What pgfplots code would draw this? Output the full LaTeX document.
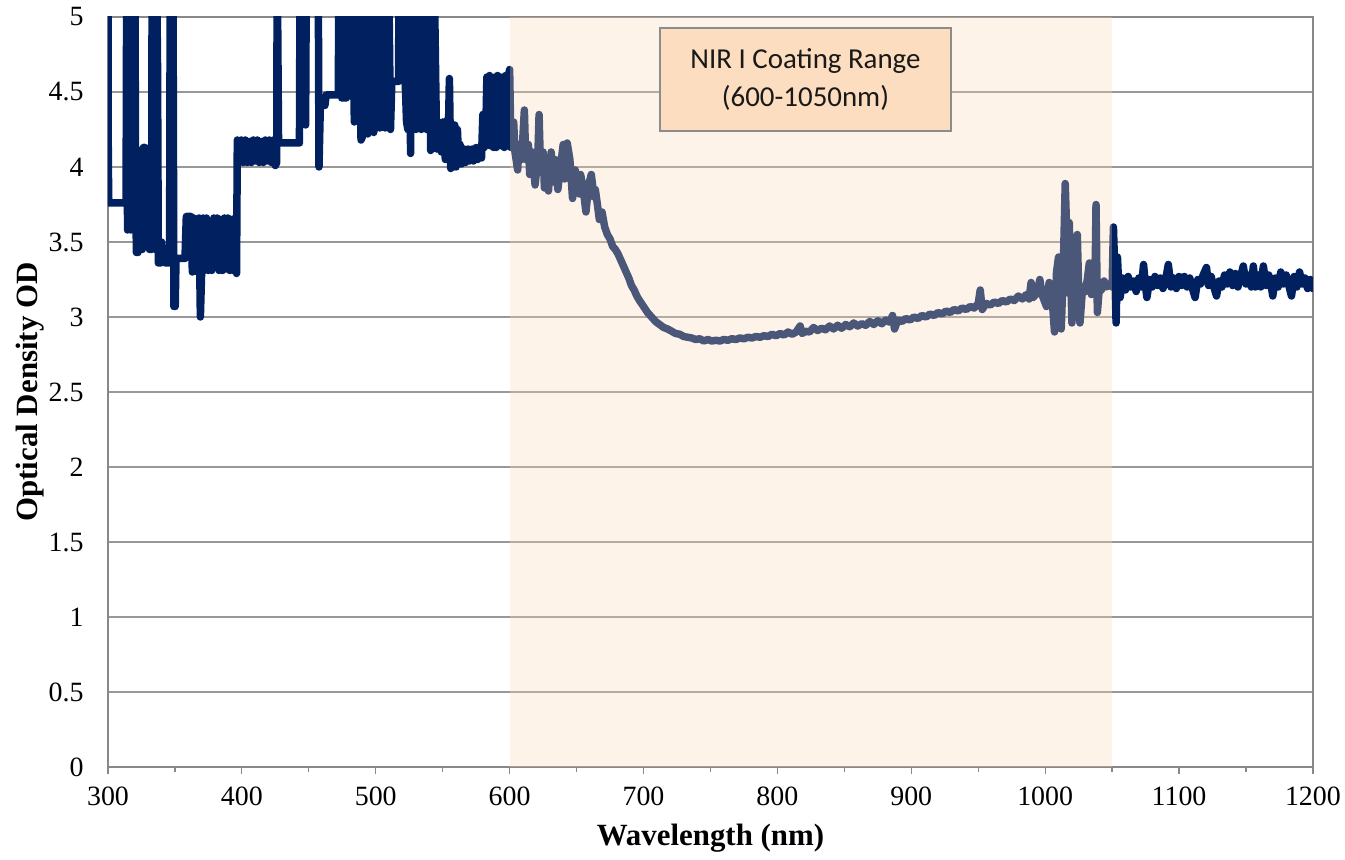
\documentclass[border=0pt]{standalone}
\usepackage{pgfplots}
\pgfplotsset{compat=1.18}
\usepackage{fontspec}
\setmainfont{Liberation Serif}
\newfontfamily\boxfont{Carlito}

\definecolor{navy}{RGB}{0,32,96}
\definecolor{gridc}{RGB}{152,152,152}
\definecolor{axc}{RGB}{136,136,136}
\definecolor{nirshade}{RGB}{248,215,182}
\definecolor{boxfill}{RGB}{252,221,192}
\definecolor{boxline}{RGB}{140,140,140}

\newcommand{\tickfont}{\fontsize{28}{30}\selectfont}

\begin{document}
\begin{tikzpicture}
\begin{axis}[
  at={(0,0)}, anchor=south west,
  scale only axis, width=1205bp, height=750bp,
  xmin=300, xmax=1200, ymin=0, ymax=5,
  xtick={300,400,...,1200}, minor x tick num=1,
  xticklabels={300,400,500,600,700,800,900,1000,1100,1200},
  ytick={0,0.5,...,5},
  yticklabels={0,0.5,1,1.5,2,2.5,3,3.5,4,4.5,5},
  xtick pos=lower, ytick pos=left,
  ymajorgrids,
  grid style={gridc, line width=1.4bp},
  axis line style={axc, line width=1.4bp},
  tick align=outside,
  major tick length=7bp, minor tick length=5bp,
  xtick style={axc, line width=1.2bp},
  ytick style={draw=none},
  xticklabel style={font=\tickfont, yshift=-9bp},
  yticklabel style={font=\tickfont, xshift=-14bp},
  xlabel={\textbf{Wavelength (nm)}},
  ylabel={\textbf{Optical Density OD}},
  label style={font=\fontsize{31}{34}\selectfont},
  xlabel style={yshift=-12bp},
  ylabel style={yshift=-2bp},
]
\addplot[navy, line width=7.5bp, line join=round, line cap=round] coordinates {
(300,5.4)(300.2,4.05)(300.6,3.76)(313.5,3.76)(314,5.4)(314.6,3.58)(315.2,5.4)(315.8,3.75)
(316.4,5.4)(317,3.58)(317.6,5.4)(318.2,3.9)(318.8,5.4)(319.4,3.6)(320,5.4)(320.6,4.0)
(321.2,3.43)(322.4,3.43)(323,4.0)(324,3.95)(325,4.05)(325.6,3.45)(326.4,4.13)(327.6,4.13)
(328.2,3.92)(329.5,3.92)(330.2,4.1)(331,3.45)(332.5,3.45)(333,5.4)(333.8,3.6)(334.6,5.4)
(335.4,3.45)(336.2,5.4)(337,4.67)(337.6,3.36)(339.5,3.36)(340,3.5)(341,3.37)(342,3.4)
(343,3.36)(346,3.36)(346.5,5.4)(348.5,5.4)(349.2,3.07)(350.2,3.07)(350.8,3.39)(357.5,3.39)
(358.5,3.67)(362,3.67)
(363,3.3)(364,3.66)(365,3.31)(366,3.65)(367,3.3)(368,3.66)(369,3.0)(370,3.32)(371,3.66)
(372,3.31)(373.5,3.66)(375,3.31)(376,3.64)(377.5,3.31)(379,3.66)(380,3.33)(381.5,3.66)
(383,3.31)(384,3.65)(385.5,3.31)(387,3.66)(388,3.32)(389.5,3.66)(391,3.31)(392,3.65)
(393.5,3.31)(395,3.66)(396,3.29)(396.6,4.18)
(398,4.03)(399.5,4.18)(401,4.03)(402.5,4.18)(404,4.03)(405.5,4.17)(407,4.03)(408.5,4.18)
(410,4.04)(411.5,4.18)(413,4.03)(414.5,4.17)(416,4.03)(417.5,4.18)(419,4.04)(420.5,4.18)
(422,4.03)(423.5,4.18)(425,4.01)(426,4.03)
(426.4,5.4)(427.4,4.16)(443,4.16)(443.5,5.4)(444.3,4.28)(445.2,5.4)(446,4.3)(446.8,5.4)
(447.6,4.28)(448.2,5.4)(457,5.4)(457.6,4.0)(458.6,4.41)(462,4.41)(463,4.48)(472,4.48)
(472.6,5.4)(474,5.4)(474.6,4.46)(478,4.46)
(478.5,5.4)(480,4.48)(480.5,5.4)(482,4.47)(482.5,5.4)(484,4.3)(484.5,5.4)(486,4.45)
(486.5,5.4)(489,4.18)(490,4.2)(490.5,5.4)(492,4.35)(492.5,5.4)(494,4.22)(494.5,5.4)
(496,4.4)(496.5,5.4)(498.5,4.23)(499,5.4)(501,4.3)(501.5,5.4)(503,4.26)(503.5,5.4)
(505,4.3)(505.5,5.4)(507,4.26)(507.5,5.4)(509,4.3)(509.5,5.4)(511,4.25)(512,4.57)
(517,4.57)(517.5,5.4)(519,4.6)(519.5,5.4)(521,4.57)(522,4.57)(523,4.3)(524,4.25)
(525,5.4)(526,4.09)(526.5,5.4)(528,4.4)(528.5,5.4)(530,4.25)(530.5,5.4)(532,4.3)
(532.5,5.4)(534,4.25)(534.5,5.4)(536,4.28)(536.5,5.4)(538,4.25)(539,4.3)(540,5.4)
(541,4.11)(541.5,5.4)(543,4.15)(543.5,5.4)(545.5,4.12)(546,4.3)(548,4.2)(549,4.1)
(550,4.3)(551,4.15)(552,4.05)(553,4.31)(554,4.1)(555,4.59)(556,3.99)(557,4.15)
(558,4.0)(559,4.28)(560,4.0)(561,4.25)(562,4.02)(563,4.15)(564,4.02)(566,4.12)
(567,4.03)(569,4.12)(570,4.04)(572,4.12)(573,4.04)(575,4.13)(576,4.05)(578,4.13)
(579,4.06)(580,4.35)(581,4.13)(582,4.15)(583,4.6)(584,4.15)(585,4.61)(586,4.14)
(587,4.58)(588,4.13)(589,4.6)(590,4.13)(591,4.61)(592,4.15)(593,4.6)(594,4.14)
(595,4.6)(596,4.13)(597,4.61)(598,4.14)(599,4.6)(600,4.65)
(601,4.13)(603,4.3)(604,4.1)(606,3.98)(607,4.15)(609,4.05)(611,4.38)(612,4.05)
(614,4.15)(615,3.95)(617,4.1)(619,3.88)(621,4.05)(622,4.35)(623,4.0)(625,4.1)
(626,3.86)(628,4.05)(629,3.84)(631,4.1)(633,3.9)(634,4.05)(636,3.85)(638,4.0)
(640,4.15)(641,3.92)(643,4.16)(645,4.05)(647,3.79)(649,3.98)(650,3.9)(652,3.82)
(653,3.95)(655,3.85)(657,3.70)(659,3.88)(661,3.95)(663,3.8)(664,3.85)(666,3.72)
(667,3.65)(669,3.7)(671,3.6)(673,3.55)(675,3.52)(677,3.47)(679,3.45)(681,3.42)
(683,3.38)(685,3.34)(687,3.3)(689,3.26)(691,3.21)(693,3.18)(695,3.14)(697,3.11)
(700,3.07)(703,3.03)(706,3.0)(709,2.97)(712,2.95)(715,2.93)(718,2.92)
(720,2.91)(724,2.89)(727,2.885)(730,2.87)(733,2.865)(736,2.86)(739,2.85)(742,2.855)
(745,2.84)(748,2.85)(751,2.84)(754,2.845)(757,2.84)(760,2.85)(763,2.845)(766,2.855)
(769,2.85)(772,2.86)(775,2.855)(778,2.865)(781,2.86)(784,2.87)(787,2.865)(790,2.875)
(793,2.87)(796,2.885)(799,2.875)(802,2.89)(805,2.88)(808,2.9)(811,2.885)(814,2.9)
(817,2.94)(818.5,2.89)(821,2.905)(824,2.9)(827,2.93)(830,2.91)(833,2.925)(836,2.915)
(839,2.94)(842,2.92)(845,2.945)(848,2.925)(851,2.95)(854,2.935)(857,2.96)(860,2.94)
(863,2.955)(866,2.945)(869,2.97)(872,2.95)(875,2.975)(878,2.955)(881,2.98)(884,2.965)
(886,3.01)(887.5,2.92)(890,2.98)(893,2.97)(896,2.99)(899,2.98)(902,3.0)(905,2.99)
(908,3.01)(911,3.0)(914,3.02)(917,3.01)(920,3.03)(923,3.02)(926,3.04)(929,3.03)
(932,3.05)(935,3.04)(938,3.06)(941,3.05)(944,3.07)(947,3.06)(950,3.09)(951.5,3.18)
(953,3.05)(956,3.09)(959,3.08)(962,3.1)(965,3.09)(968,3.11)(971,3.1)(974,3.12)
(977,3.11)(980,3.14)(983,3.12)(986,3.15)(988,3.12)(989.5,3.23)(991,3.13)(994,3.16)
(996,3.25)(998,3.14)(1001,3.07)(1003,3.23)(1005,3.15)(1007,2.9)(1008.5,3.3)(1010,3.4)
(1011,3.2)(1012,2.92)(1013.5,3.3)(1015,3.89)(1016.3,3.5)(1017,3.16)(1018,3.63)(1019,3.3)
(1020,2.96)(1021,3.2)(1022.5,3.25)(1024,3.55)(1025,3.2)(1026,2.96)(1028,3.2)(1030,3.17)
(1031.5,3.25)(1033,3.36)(1034.5,3.15)(1036,3.2)(1037.5,3.4)(1038,3.75)(1039,3.03)
(1040.5,3.2)(1042,3.18)(1044,3.24)(1046,3.2)(1048,3.22)(1050,3.2)(1051,3.6)(1052,3.3)
(1053,2.96)(1054,3.4)(1055,3.2)
(1056,3.13)(1058,3.26)(1060,3.18)(1062,3.27)(1064,3.2)(1066,3.24)(1068,3.17)(1070,3.26)
(1072,3.2)(1073.5,3.35)(1075,3.2)(1076,3.13)(1078,3.25)(1080,3.2)(1082,3.27)(1084,3.21)
(1086,3.26)(1088,3.19)(1090,3.25)(1092,3.35)(1094,3.2)(1096,3.26)(1098,3.19)(1100,3.27)
(1102,3.21)(1104,3.27)(1106,3.2)(1108,3.26)(1110,3.19)(1112,3.13)(1114,3.25)(1116,3.22)
(1118,3.28)(1120.5,3.33)(1122,3.21)(1124,3.27)(1126,3.2)(1128,3.14)(1130,3.24)(1132,3.2)
(1134,3.28)(1136,3.22)(1138,3.3)(1140,3.21)(1142,3.29)(1144,3.2)(1146,3.27)(1148,3.34)
(1150,3.22)(1152,3.28)(1154,3.2)(1155.5,3.34)(1157,3.2)(1159,3.28)(1161,3.2)(1163,3.34)
(1165,3.21)(1167,3.28)(1169,3.2)(1170,3.14)(1172,3.26)(1174,3.2)(1176,3.3)(1178,3.22)
(1180,3.28)(1182,3.21)(1184,3.14)(1186,3.27)(1188,3.2)(1190,3.3)(1192,3.22)(1194,3.26)
(1196,3.19)(1198,3.25)(1200,3.19)
};
% shaded coating range, drawn over the curve
\fill[fill=nirshade, fill opacity=0.3] (axis cs:600,0) rectangle (axis cs:1050,5);
\node[draw=boxline, line width=1.6bp, fill=boxfill, minimum width=291bp, minimum height=103bp,
  align=center, inner sep=0pt, font=\boxfont\fontsize{29}{38}\selectfont, text=black!90]
  at (axis cs:821,4.583) {NIR I Coating Range\\(600-1050nm)};
\end{axis}
\pgfresetboundingbox
\path (-108bp,-93bp) rectangle (1237bp,767bp);
\end{tikzpicture}
\end{document}
